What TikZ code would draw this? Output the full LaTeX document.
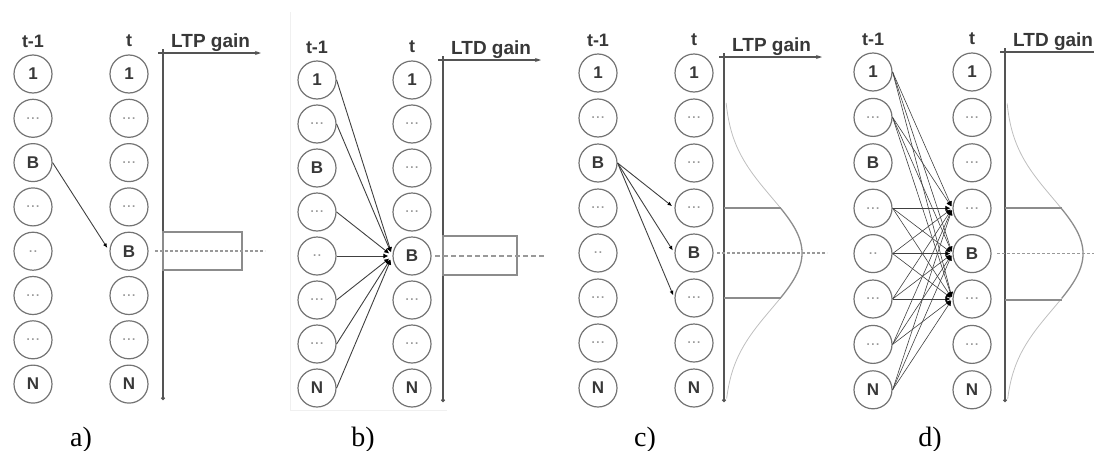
\documentclass[tikz,border=0pt]{standalone}
\usepackage{fontspec}
\setmainfont{Liberation Serif}
\setsansfont{Liberation Sans}
\usetikzlibrary{arrows.meta}

\definecolor{ring}{gray}{0.45}
\definecolor{wire}{gray}{0.25}
\definecolor{ink}{gray}{0.22}
\definecolor{axisc}{gray}{0.33}
\definecolor{dotc}{gray}{0.6}
\definecolor{bandc}{gray}{0.55}
\definecolor{tailc}{gray}{0.75}

\newcommand\gdots{\textcolor{dotc}{\mdseries...}}
\newcommand\gtwo{\textcolor{dotc}{\mdseries..}}

\tikzset{
  neuron/.style={circle, draw=ring, line width=1.2pt, minimum size=38pt,
    inner sep=0pt, text=ink, font=\sffamily\bfseries\fontsize{17}{17}\selectfont},
  coltitle/.style={text=ink, font=\sffamily\bfseries\fontsize{18}{18}\selectfont},
  gainlbl/.style={text=ink, inner sep=0pt, anchor=base west,
    font=\sffamily\bfseries\fontsize{19}{19}\selectfont},
  panlab/.style={anchor=base, font=\rmfamily\fontsize{28}{28}\selectfont},
  axisline/.style={draw=axisc, line width=1.3pt},
  bigtip/.style={-{Latex[length=5pt,width=5pt,color=black,fill=black]}},
  smalltip/.style={-{Latex[length=4.5pt,width=4pt,color=black,fill=black]}},
  link/.style={draw=wire, line width=0.9pt, bigtip},
  denselink/.style={draw=wire, line width=0.6pt, bigtip},
  window/.style={draw=bandc, line width=1.5pt},
  midline/.style={draw=dotc, line width=1.3pt},
  band/.style={draw=bandc, line width=1.8pt},
  curvemid/.style={draw=bandc, line width=1.3pt},
  curvetail/.style={draw=tailc, line width=0.8pt},
}

% #1 prefix, #2 x of t-1 column, #3 x of t column, #4 x of gain axis,
% #5 y of first row, #6 row pitch, #7 y of gain axis, #8 y of axis end,
% #9 gain label
\newcommand\drawpanel[9]{%
  \foreach \i/\s in {1/1,2/\gdots,3/B,4/\gdots,5/\gtwo,6/\gdots,7/\gdots,8/N}
    \node[neuron] (#1l\i) at (#2,{#5+(\i-1)*#6}) {\s};
  \foreach \i/\s in {1/1,2/\gdots,3/\gdots,4/\gdots,5/B,6/\gdots,7/\gdots,8/N}
    \node[neuron] (#1r\i) at (#3,{#5+(\i-1)*#6}) {\s};
  \node[coltitle] (#1tl) at (#2,#5-33) {t-1};
  \node[coltitle] (#1tr) at (#3,#5-33) {t};
  \coordinate (#1o) at (#4-5,#7);
  \coordinate (#1x) at (#4+98,#7);
  \coordinate (#1top) at (#4,#7-4);
  \coordinate (#1bot) at (#4,#8);
  \draw[axisline,-{Stealth[length=6pt,width=4pt]}] (#1o) -- (#1x);
  \draw[axisline,-{Circle[length=3.5pt]}] (#1top) -- (#1bot);
  \node[gainlbl] (#1g) at (#4+8,#7-6) {#9};
}

% Gaussian gain profile: #1 axis x, #2 centre y, #3 half width of the band
\newcommand\gaincurve[3]{%
  \draw[curvetail] plot[domain=-2.68:-0.80, samples=40, variable=\t]
    ({#1+78*exp(-\t*\t/2)},{#2+56*\t});
  \draw[curvemid] plot[domain=-0.80:0.80, samples=40, variable=\t]
    ({#1+78*exp(-\t*\t/2)},{#2+56*\t});
  \draw[curvetail] plot[domain=0.80:2.60, samples=40, variable=\t]
    ({#1+78*exp(-\t*\t/2)},{#2+56*\t});
  \draw[band] (#1,#2-#3) -- (#1+56.5,#2-#3);
  \draw[band] (#1,#2+#3) -- (#1+56.5,#2+#3);
}

\begin{document}
\begin{tikzpicture}[x=1pt,y=-1pt]
\useasboundingbox (0,0) rectangle (1094,450);
\clip (0,0) rectangle (1094,450);

% faint frame around the second panel
\draw[gray!12, line width=0.8pt] (290,12) -- (290,410) -- (447,410);

% a) single LTP link
\drawpanel{a}{33}{129}{163}{74}{44.3}{53}{400}{LTP gain}
\draw[window] (163,232) rectangle (242,270);
\draw[midline, dash pattern=on 2.5pt off 2.5pt] (155,251) -- (265,251);
\draw[link, smalltip, shorten >=4pt] (al3.east) -- (ar5.west);
\node[panlab] (alab) at (81,446) {a)};

% b) LTD links converging on one target
\drawpanel{b}{317}{412}{443}{80}{44}{60}{402}{LTD gain}
\draw[window] (443,236) rectangle (517,275);
\draw[midline, dash pattern=on 5pt off 3pt] (435,256) -- (545,256);
\foreach \i in {1,2,4,5,6,7,8}
  \draw[link, shorten >=4pt] (bl\i.east) -- (br5.west);
\node[panlab] (blab) at (363,446) {b)};

% c) LTP spread over neighbouring targets
\drawpanel{c}{598}{694}{724}{73}{45}{57}{402}{LTP gain}
\gaincurve{724}{253}{45}
\draw[midline, dash pattern=on 2.5pt off 2.5pt] (717,253) -- (827,253);
\foreach \j in {4,5,6}
  \draw[link, smalltip, shorten >=3pt] (cl3.east) -- (cr\j.west);
\node[panlab] (clab) at (645,446) {c)};

% d) LTD spread over neighbouring targets
\drawpanel{d}{873}{972}{1005}{72}{45.4}{52}{402}{LTD gain}
\gaincurve{1005}{253.6}{46}
\draw[midline, dash pattern=on 2.5pt off 2.5pt] (997,253.6) -- (1100,253.6);
\foreach \i in {1,2,4,5,6,7,8}
  \foreach \j in {4,5,6}
    \draw[denselink, shorten >=2pt] (dl\i.east) -- (dr\j.west);
\node[panlab] (dlab) at (930,446) {d)};
\end{tikzpicture}
\end{document}
